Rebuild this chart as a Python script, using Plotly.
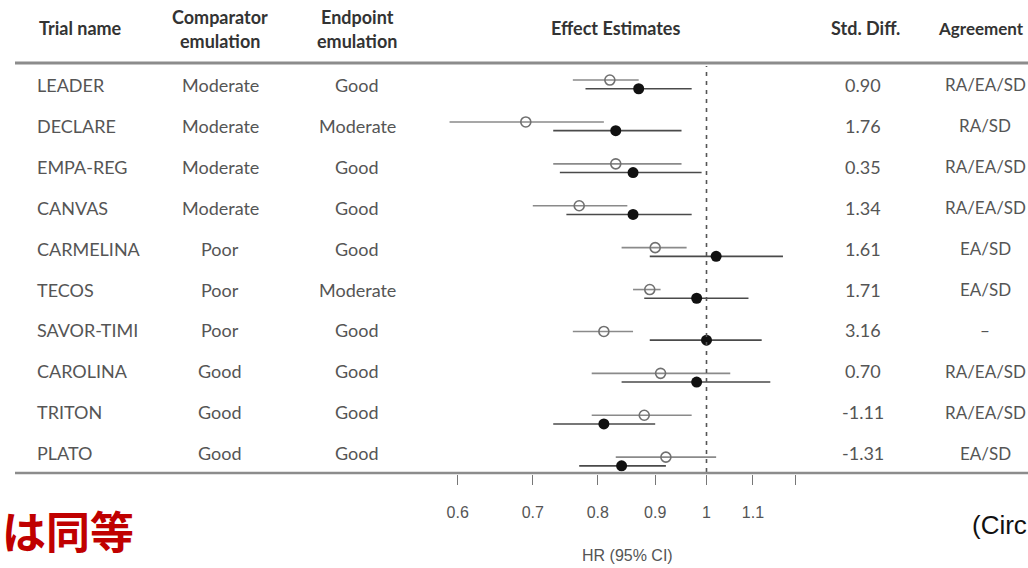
import plotly.graph_objects as go

# ---------------- data ----------------
trials = ["LEADER", "DECLARE", "EMPA-REG", "CANVAS", "CARMELINA",
          "TECOS", "SAVOR-TIMI", "CAROLINA", "TRITON", "PLATO"]
comparator = ["Moderate", "Moderate", "Moderate", "Moderate", "Poor",
              "Poor", "Poor", "Good", "Good", "Good"]
endpoint = ["Good", "Moderate", "Good", "Good", "Good",
            "Moderate", "Good", "Good", "Good", "Good"]
std_diff = ["0.90", "1.76", "0.35", "1.34", "1.61",
            "1.71", "3.16", "0.70", "-1.11", "-1.31"]
agreement = ["RA/EA/SD", "RA/SD", "RA/EA/SD", "RA/EA/SD", "EA/SD",
             "EA/SD", "\u2013", "RA/EA/SD", "RA/EA/SD", "EA/SD"]

# RWE emulation (open circles)
rwe_hr = [0.82, 0.69, 0.83, 0.77, 0.90, 0.89, 0.81, 0.91, 0.88, 0.92]
rwe_lo = [0.76, 0.59, 0.73, 0.70, 0.84, 0.86, 0.76, 0.79, 0.79, 0.83]
rwe_hi = [0.87, 0.81, 0.95, 0.85, 0.96, 0.91, 0.86, 1.05, 0.97, 1.02]
# RCT results (filled circles)
rct_hr = [0.87, 0.83, 0.86, 0.86, 1.02, 0.98, 1.00, 0.98, 0.81, 0.84]
rct_lo = [0.78, 0.73, 0.74, 0.75, 0.89, 0.88, 0.89, 0.84, 0.73, 0.77]
rct_hi = [0.97, 0.95, 0.99, 0.97, 1.17, 1.09, 1.12, 1.14, 0.90, 0.92]

tick_vals = [0.6, 0.7, 0.8, 0.9, 1.0, 1.1, 1.2]
tick_text = ["0.6", "0.7", "0.8", "0.9", "1", "1.1", ""]

# ---------------- layout helpers ----------------
W, H = 1028, 568
def px(x):
    return x / W
def py(y):
    return 1 - y / H

n = len(trials)
rows = list(range(n))
off = 0.104

fig = go.Figure()

def ci_xy(lo, hi, yy):
    xs, ys = [], []
    for a, b, c in zip(lo, hi, yy):
        xs += [a, b, None]
        ys += [c, c, None]
    return xs, ys

y_rwe = [r - off for r in rows]
y_rct = [r + off for r in rows]

xs, ys = ci_xy(rwe_lo, rwe_hi, y_rwe)
fig.add_trace(go.Scatter(x=xs, y=ys, mode="lines",
                         line=dict(color="#8a8a8a", width=1.6),
                         hoverinfo="skip", showlegend=False))
xs, ys = ci_xy(rct_lo, rct_hi, y_rct)
fig.add_trace(go.Scatter(x=xs, y=ys, mode="lines",
                         line=dict(color="#4a4a4a", width=1.6),
                         hoverinfo="skip", showlegend=False))
fig.add_trace(go.Scatter(x=rwe_hr, y=y_rwe, mode="markers",
                         marker=dict(symbol="circle-open", size=10,
                                     color="#707070", line=dict(width=1.6, color="#707070")),
                         showlegend=False))
fig.add_trace(go.Scatter(x=rct_hr, y=y_rct, mode="markers",
                         marker=dict(symbol="circle", size=11, color="#111111"),
                         showlegend=False))

# axes
x_left_px, x_right_px = 440, 810
one_px, per_dec = 706.5, 1121.4
fig.update_xaxes(type="log", domain=[px(x_left_px), px(x_right_px)],
                 range=[(x_left_px - one_px) / per_dec, (x_right_px - one_px) / per_dec],
                 tickvals=tick_vals, ticktext=tick_text, ticks="outside",
                 ticklen=10, tickwidth=1.2, tickcolor="#777",
                 showgrid=False, zeroline=False, showline=False,
                 ticklabelstandoff=14,
                 tickfont=dict(family="Liberation Sans, Arial", size=16, color="#555"))
y_top_px, y_bot_px = 64, 474
fig.update_yaxes(domain=[py(y_bot_px), py(y_top_px)],
                 range=[(y_bot_px - 84.4) / 41.9, (y_top_px - 84.4) / 41.9],
                 visible=False, showgrid=False, zeroline=False)

shapes = []
# reference line at HR=1
shapes.append(dict(type="line", xref="x", yref="paper", x0=1, x1=1,
                   y0=py(472), y1=py(66),
                   line=dict(color="#555", width=1.6, dash="4px,5px")))
# top and bottom rules
shapes.append(dict(type="line", xref="paper", yref="paper", x0=px(15), x1=px(1028),
                   y0=py(63), y1=py(63), line=dict(color="#8c8c8c", width=3)))
shapes.append(dict(type="line", xref="paper", yref="paper", x0=px(15), x1=px(1028),
                   y0=py(473), y1=py(473), line=dict(color="#8c8c8c", width=2.5)))
fig.update_layout(shapes=shapes)

ann = []
hfont = dict(family="Lato", size=18, color="#333")
bfont = dict(family="Lato", size=18, color="#555")
afont = dict(family="Lato", size=17, color="#555")

def text(x, y, s, font, xanchor="center"):
    ann.append(dict(x=px(x), y=py(y), xref="paper", yref="paper", text=s,
                    showarrow=False, xanchor=xanchor, yanchor="middle", font=font))

B = lambda s: "<b>" + s + "</b>"
text(37, 28, B("Trial name"), hfont, "left")
text(220, 17, B("Comparator"), hfont)
text(220, 41, B("emulation"), hfont)
text(357, 17, B("Endpoint"), hfont)
text(357, 41, B("emulation"), hfont)
text(615, 28, B("Effect Estimates"), hfont)
text(865, 28, B("Std. Diff."), hfont)
text(1026, 28, B("Agreement"), dict(family="Lato", size=17, color="#333"), "right")

for i in rows:
    yy = 85 + 40.9 * i
    text(35, yy, trials[i], bfont, "left")
    text(220, yy, comparator[i], bfont)
    text(357, yy, endpoint[i], bfont)
    text(863, yy, std_diff[i], bfont)
    text(985, yy, agreement[i], afont)

text(627, 555, "HR (95% CI)", dict(family="Liberation Sans, Arial", size=16, color="#555"))
text(0, 530, B("は同等"), dict(family="Noto Sans CJK JP", size=44, color="#C00000"), "left")
text(970, 525, "(Circ", dict(family="Liberation Sans, Arial", size=26, color="#111"), "left")

fig.update_layout(annotations=ann, width=W, height=H,
                  margin=dict(l=0, r=0, t=0, b=0),
                  paper_bgcolor="white", plot_bgcolor="white")

fig.write_html("out.html", config={"displayModeBar": False},
               post_script="document.body.style.margin='0';document.body.style.overflow='hidden';")
